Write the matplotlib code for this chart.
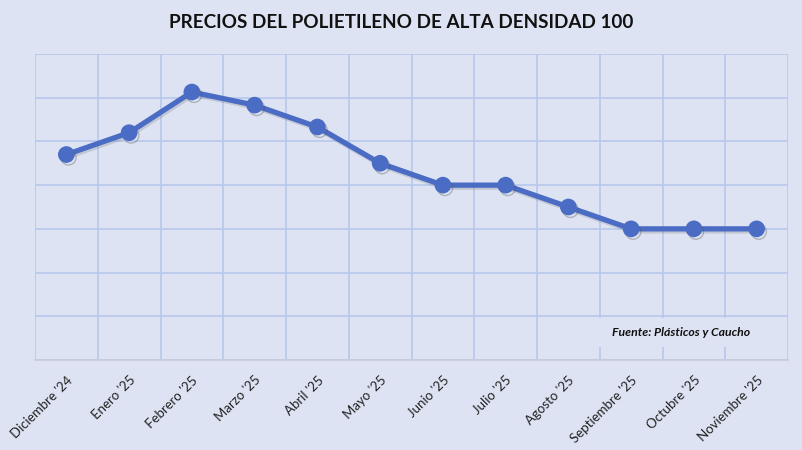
import matplotlib
matplotlib.use("Agg")
import matplotlib.pyplot as plt
import matplotlib.patheffects as pe
from matplotlib.patches import Rectangle
import numpy as np

categories = ["Diciembre '24", "Enero '25", "Febrero '25", "Marzo '25", "Abril '25",
              "Mayo '25", "Junio '25", "Julio '25", "Agosto '25", "Septiembre '25",
              "Octubre '25", "Noviembre '25"]
precios = [4.7, 5.2, 6.13, 5.83, 5.33, 4.5, 4.0, 4.0, 3.5, 3.0, 3.0, 3.0]
titulo = "PRECIOS DEL POLIETILENO DE ALTA DENSIDAD 100"
fuente = "Fuente: Plásticos y Caucho"

bg = "#dde3f3"
grid_c = "#b7c8ec"
line_c = "#4a6cc4"

plt.rcParams['font.family'] = ['Lato', 'DejaVu Sans']

fig = plt.figure(figsize=(8.02, 4.5), dpi=100, facecolor=bg)
ax = fig.add_axes([35/802, 90/450, (788-35)/802, (360-54)/450])
ax.set_facecolor(bg)

x = np.arange(len(categories))
ax.set_xlim(-0.5, len(categories) - 0.5)
ax.set_ylim(0, 7)

ax.set_yticks(np.arange(0, 8, 1))
ax.set_yticklabels([])
ax.tick_params(axis='y', length=0)
ax.set_xticks(x)
ax.set_xticklabels(categories, rotation=45, ha='right', rotation_mode='anchor', fontsize=9.5, color='#222222')
ax.tick_params(axis='x', length=0, pad=10)
ax.set_xticks(np.arange(-0.5, len(categories), 1), minor=True)
ax.tick_params(axis='x', which='minor', length=0)

ax.grid(True, axis='y', which='major', color=grid_c, lw=1.2)
ax.grid(True, axis='x', which='minor', color=grid_c, lw=1.2)
ax.set_axisbelow(True)

for s in ['top', 'right', 'left']:
    ax.spines[s].set_visible(False)
ax.spines['bottom'].set_color('#c9cbd6')
ax.spines['bottom'].set_linewidth(1.2)

# source box covering grid
rect = Rectangle(((545-35)/753, (360-347)/306), (786-545)/753, (347-318)/306,
                 transform=ax.transAxes, facecolor=bg, edgecolor='none', zorder=1.5)
ax.add_patch(rect)
ax.text((750-35)/753, (360-333)/306, fuente, transform=ax.transAxes, ha='right', va='center',
        fontsize=8.8, fontstyle='italic', fontweight='bold', color='#111111', zorder=3)

ax.plot(x, precios, color=line_c, lw=3.8, solid_capstyle='round', zorder=3,
        path_effects=[pe.SimpleLineShadow(offset=(1, -1.5), shadow_color='#666666', alpha=0.22), pe.Normal()])
ax.plot(x, precios, 'o', color=line_c, ms=11, zorder=4,
        path_effects=[pe.SimpleLineShadow(offset=(1.5, -2), shadow_color='#555555', alpha=0.35), pe.Normal()])

fig.text(401/802, 1 - 23/450, titulo, ha='center', va='center', fontsize=13.6, fontweight='bold', color='#111111')

fig.savefig("out.png", dpi=100, facecolor=bg)
